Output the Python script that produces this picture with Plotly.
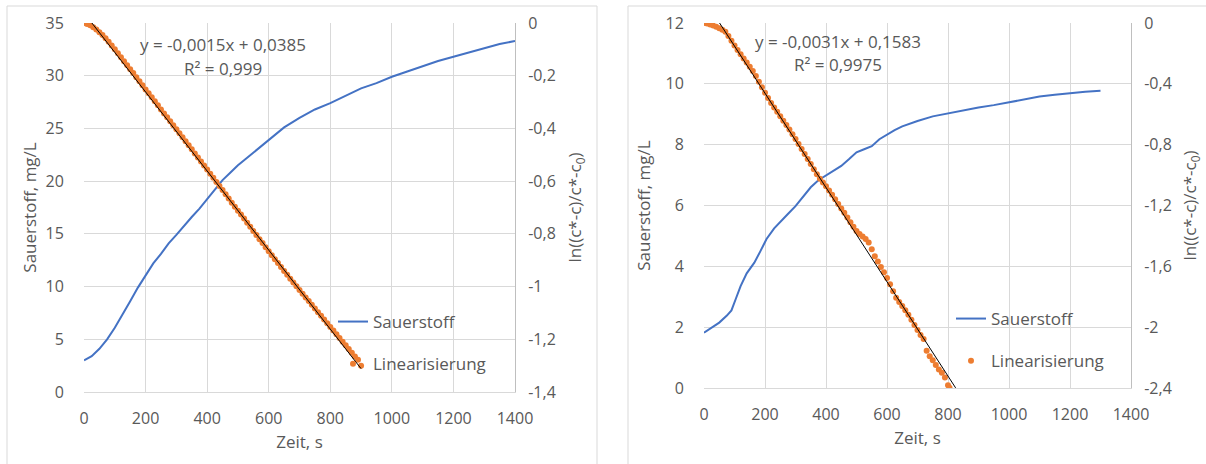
import plotly.graph_objects as go

W, H = 1206, 464

# ---------------- Data: left experiment ----------------
t_o2_a = [0, 25, 50, 75, 100, 125, 150, 175, 200, 225, 250, 275, 300, 325, 350, 375,
          400, 425, 450, 475, 500, 525, 550, 575, 600, 650, 700, 750, 800, 850, 900, 950, 1000,
          1050, 1100, 1150, 1200, 1250, 1300, 1350, 1400]
o2_a = [3.0, 3.4, 4.1, 5.0, 6.1, 7.3, 8.6, 9.9, 11.1, 12.2, 13.1, 14.1, 14.9, 15.8, 16.6, 17.4,
        18.3, 19.2, 20.1, 20.8, 21.5, 22.1, 22.7, 23.3, 23.9, 25.1, 26.0, 26.8, 27.4, 28.1, 28.8,
        29.3, 29.9, 30.4, 30.9, 31.4, 31.8, 32.2, 32.6, 33.0, 33.3]

t_lin_a = list(range(0, 901, 10))
lin_a = [0.000, -0.004, -0.009, -0.016, -0.025, -0.035, -0.046, -0.058, -0.071, -0.085,
         -0.100, -0.115, -0.130, -0.145, -0.160, -0.175, -0.190, -0.206, -0.221, -0.236,
         -0.252, -0.267, -0.282, -0.297, -0.312, -0.328, -0.343, -0.358, -0.373, -0.388,
         -0.403, -0.418, -0.433, -0.449, -0.464, -0.479, -0.495, -0.510, -0.525, -0.541,
         -0.556, -0.572, -0.587, -0.603, -0.618, -0.634, -0.650, -0.666, -0.682, -0.697,
         -0.712, -0.727, -0.742, -0.758, -0.773, -0.789, -0.804, -0.820, -0.835, -0.851,
         -0.866, -0.881, -0.896, -0.911, -0.926, -0.941, -0.955, -0.970, -0.985, -0.999,
         -1.013, -1.027, -1.041, -1.055, -1.069, -1.083, -1.097, -1.111, -1.125, -1.139,
         -1.153, -1.167, -1.181, -1.195, -1.209, -1.223, -1.237, -1.251, -1.265, -1.278,
         -1.300]

# ---------------- Data: right experiment ----------------
t_o2_b = [0, 25, 50, 75, 90, 105, 120, 140, 165, 185, 205, 230, 250, 275, 300, 325, 350,
          375, 400, 425, 450, 475, 500, 525, 550, 575, 600, 625, 650, 675, 700, 750, 800,
          850, 900, 950, 1000, 1050, 1100, 1150, 1200, 1250, 1300]
o2_b = [1.82, 2.0, 2.15, 2.38, 2.55, 2.95, 3.35, 3.77, 4.12, 4.5, 4.9, 5.25, 5.47, 5.72, 5.98,
        6.3, 6.6, 6.83, 6.98, 7.13, 7.3, 7.52, 7.75, 7.85, 7.95, 8.18, 8.33, 8.48, 8.6, 8.7,
        8.78, 8.93, 9.03, 9.13, 9.22, 9.3, 9.4, 9.5, 9.58, 9.64, 9.7, 9.74, 9.77]

t_lin_b = list(range(0, 801, 10)) + [805]
lin_b = [0.000, -0.004, -0.010, -0.017, -0.025, -0.034, -0.044, -0.058, -0.085, -0.117,
         -0.148, -0.177, -0.206, -0.233, -0.260, -0.287, -0.316, -0.349, -0.386, -0.423,
         -0.458, -0.493, -0.526, -0.555, -0.584, -0.613, -0.642, -0.671, -0.700, -0.731,
         -0.762, -0.795, -0.828, -0.861, -0.894, -0.927, -0.962, -0.995, -1.024, -1.049,
         -1.074, -1.101, -1.130, -1.159, -1.190, -1.219, -1.248, -1.279, -1.310, -1.339,
         -1.367, -1.388, -1.404, -1.420, -1.444, -1.487, -1.533, -1.569, -1.605, -1.639,
         -1.677, -1.718, -1.764, -1.807, -1.834, -1.861, -1.888, -1.919, -1.952, -1.985,
         -2.018, -2.051, -2.078, -2.155, -2.191, -2.217, -2.248, -2.279, -2.300, -2.331,
         -2.382, -2.398]

# Linear fits (slope, intercept) and their labels
fit_a = (-0.0015, 0.0385)
fit_b = (-0.0031, 0.1583)
fit_x_a = [0, 900]
fit_x_b = [0, 825]
fit_label_a = ["y = -0,0015x + 0,0385", "R² = 0,999"]
fit_label_b = ["y = -0,0031x + 0,1583", "R² = 0,9975"]

# Tick labels
x_ticks = [0, 200, 400, 600, 800, 1000, 1200, 1400]
y_left_a = [0, 5, 10, 15, 20, 25, 30, 35]
y_right_a = [0, -0.2, -0.4, -0.6, -0.8, -1.0, -1.2, -1.4]
y_right_a_txt = ["0", "-0,2", "-0,4", "-0,6", "-0,8", "-1", "-1,2", "-1,4"]
y_left_b = [0, 2, 4, 6, 8, 10, 12]
y_right_b = [0, -0.4, -0.8, -1.2, -1.6, -2.0, -2.4]
y_right_b_txt = ["0", "-0,4", "-0,8", "-1,2", "-1,6", "-2", "-2,4"]

BLUE = "#4472C4"
ORANGE = "#ED7D31"
TXT = "#595959"
GRID = "#D9D9D9"
FONT = "Open Sans"

fig = go.Figure()

def trend(fit, xs):
    return [fit[0] * x + fit[1] for x in xs]

# left panel traces
fig.add_trace(go.Scatter(x=t_o2_a, y=o2_a, mode="lines", name="Sauerstoff",
                         line=dict(color=BLUE, width=2), xaxis="x", yaxis="y",
                         legend="legend", legendgroup="a1"))
fig.add_trace(go.Scatter(x=t_lin_a, y=lin_a, mode="markers", name="Linearisierung",
                         marker=dict(color=ORANGE, size=6), xaxis="x", yaxis="y2",
                         legend="legend", legendgroup="a2"))
fig.add_trace(go.Scatter(x=fit_x_a, y=trend(fit_a, fit_x_a), mode="lines", showlegend=False,
                         line=dict(color="black", width=1), xaxis="x", yaxis="y2"))

# right panel traces
fig.add_trace(go.Scatter(x=t_o2_b, y=o2_b, mode="lines", name="Sauerstoff",
                         line=dict(color=BLUE, width=2), xaxis="x2", yaxis="y3",
                         legend="legend2", legendgroup="b1"))
fig.add_trace(go.Scatter(x=t_lin_b, y=lin_b, mode="markers", name="Linearisierung",
                         marker=dict(color=ORANGE, size=6), xaxis="x2", yaxis="y4",
                         legend="legend2", legendgroup="b2"))
fig.add_trace(go.Scatter(x=fit_x_b, y=trend(fit_b, fit_x_b), mode="lines", showlegend=False,
                         line=dict(color="black", width=1), xaxis="x2", yaxis="y4"))

def px_x(p):
    return p / W

def px_y(p):
    return 1 - p / H

tickfont = dict(family=FONT, size=16, color=TXT)
titlefont = dict(family=FONT, size=17, color=TXT)
textfont = dict(family=FONT, size=17, color=TXT)

common_x = dict(range=[0, 1400], tickvals=x_ticks, showgrid=True, gridcolor=GRID,
                zeroline=False, showline=True, linecolor=GRID, linewidth=1,
                ticks="outside", ticklen=12, tickcolor="rgba(0,0,0,0)",
                tickfont=tickfont, automargin=False,
                title=dict(text="Zeit, s", font=titlefont, standoff=7))

dom_a_x = [px_x(84), px_x(515)]
dom_a_y = [px_y(392), px_y(23)]
dom_b_x = [px_x(704), px_x(1131)]
dom_b_y = [px_y(388), px_y(23)]

fig.update_layout(
    width=W, height=H, autosize=False,
    margin=dict(l=0, r=0, t=0, b=0),
    paper_bgcolor="white", plot_bgcolor="white",
    separators=",.",
    font=dict(family=FONT, color=TXT, size=16),
    xaxis=dict(domain=dom_a_x, anchor="y", **common_x),
    yaxis=dict(domain=dom_a_y, anchor="x", range=[0, 35], tickvals=y_left_a,
               showgrid=True, gridcolor=GRID, zeroline=False, showline=False,
               ticks="outside", ticklen=16, tickcolor="rgba(0,0,0,0)",
               tickfont=tickfont, automargin=False,
               title=dict(text="Sauerstoff, mg/L", font=titlefont, standoff=4)),
    yaxis2=dict(overlaying="y", side="right", anchor="x", range=[-1.4, 0],
                tickvals=y_right_a, ticktext=y_right_a_txt, showgrid=False,
                zeroline=False, showline=True, linecolor="#BFBFBF", linewidth=1,
                ticks="outside", ticklen=9, tickcolor="rgba(0,0,0,0)",
                tickfont=tickfont, automargin=False,
                title=dict(text="ln((c*-c)/c*-c<sub>0</sub>)", font=titlefont, standoff=14)),
    xaxis2=dict(domain=dom_b_x, anchor="y3", **common_x),
    yaxis3=dict(domain=dom_b_y, anchor="x2", range=[0, 12], tickvals=y_left_b,
                showgrid=True, gridcolor=GRID, zeroline=False, showline=False,
                ticks="outside", ticklen=16, tickcolor="rgba(0,0,0,0)",
                tickfont=tickfont, automargin=False,
                title=dict(text="Sauerstoff, mg/L", font=titlefont, standoff=10)),
    yaxis4=dict(overlaying="y3", side="right", anchor="x2", range=[-2.4, 0],
                tickvals=y_right_b, ticktext=y_right_b_txt, showgrid=False,
                zeroline=False, showline=True, linecolor="#BFBFBF", linewidth=1,
                ticks="outside", ticklen=9, tickcolor="rgba(0,0,0,0)",
                tickfont=tickfont, automargin=False,
                title=dict(text="ln((c*-c)/c*-c<sub>0</sub>)", font=titlefont, standoff=13)),
    legend=dict(x=px_x(333), y=px_y(304), xanchor="left", yanchor="top",
                bgcolor="rgba(0,0,0,0)", font=textfont,
                tracegroupgap=17, itemwidth=30),
    legend2=dict(x=px_x(951), y=px_y(301), xanchor="left", yanchor="top",
                 bgcolor="rgba(0,0,0,0)", font=textfont,
                 tracegroupgap=17, itemwidth=30),
    shapes=[
        dict(type="rect", xref="paper", yref="paper", x0=px_x(7), x1=px_x(597),
             y0=px_y(470), y1=px_y(6), line=dict(color=GRID, width=1)),
        dict(type="rect", xref="paper", yref="paper", x0=px_x(628), x1=px_x(1210),
             y0=px_y(470), y1=px_y(6), line=dict(color=GRID, width=1)),
    ],
    annotations=[
        dict(xref="paper", yref="paper", x=px_x(223), y=px_y(44), text=fit_label_a[0],
             xanchor="center", yanchor="middle", showarrow=False, font=textfont),
        dict(xref="paper", yref="paper", x=px_x(223), y=px_y(68), text=fit_label_a[1],
             xanchor="center", yanchor="middle", showarrow=False, font=textfont),
        dict(xref="paper", yref="paper", x=px_x(838), y=px_y(41), text=fit_label_b[0],
             xanchor="center", yanchor="middle", showarrow=False, font=textfont),
        dict(xref="paper", yref="paper", x=px_x(838), y=px_y(64), text=fit_label_b[1],
             xanchor="center", yanchor="middle", showarrow=False, font=textfont),
    ],
)

fig.write_html("out.html", config={"displayModeBar": False},
               post_script="document.body.style.margin='0';document.body.style.overflow='hidden';")
